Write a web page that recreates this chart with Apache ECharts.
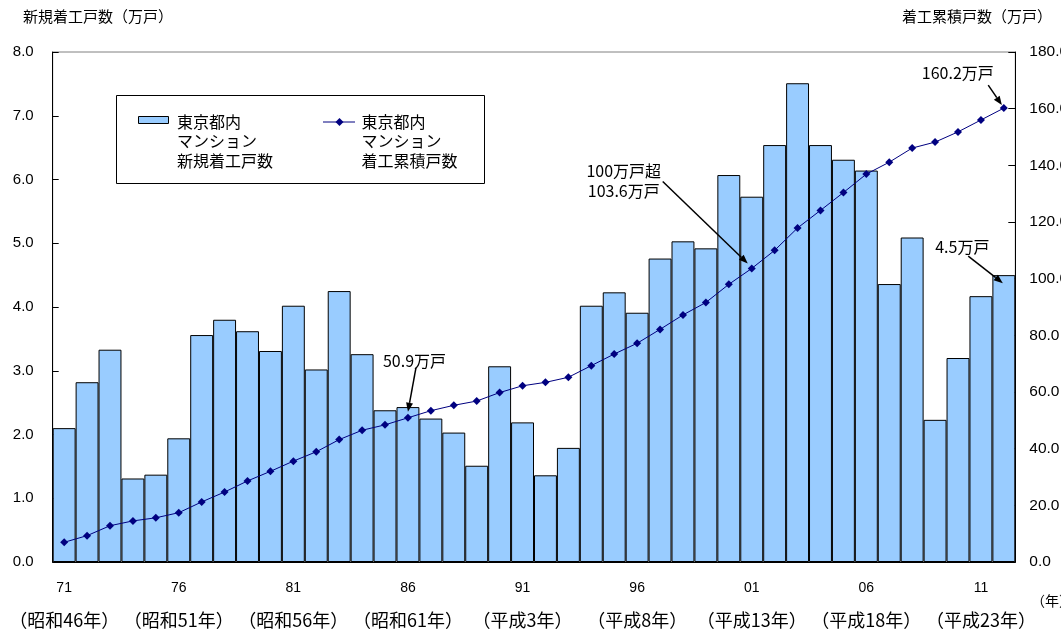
<!DOCTYPE html>
<html>
<head>
<meta charset="utf-8">
<script src="https://cdn.jsdelivr.net/npm/echarts@6/dist/echarts.min.js"></script>
<style>
  html, body { margin: 0; padding: 0; background: #fff; }
  #chart { width: 1061px; height: 634px; }
</style>
</head>
<body>
<div id="chart"></div>
<script>
// Calendar years (last two digits), 1971–2012
const years = ['71','72','73','74','75','76','77','78','79','80',
               '81','82','83','84','85','86','87','88','89','90',
               '91','92','93','94','95','96','97','98','99','00',
               '01','02','03','04','05','06','07','08','09','10',
               '11','12'];

// Japanese era names shown under every fifth year
const eraLabels = ['（昭和46年）','（昭和51年）','（昭和56年）','（昭和61年）','（平成3年）',
                   '（平成8年）','（平成13年）','（平成18年）','（平成23年）'];

// New condominium starts in Tokyo (10,000 units)
const newStarts = [2.10, 2.82, 3.33, 1.31, 1.37, 1.94, 3.56, 3.80, 3.62, 3.31,
                   4.02, 3.02, 4.25, 3.26, 2.38, 2.43, 2.25, 2.03, 1.51, 3.07,
                   2.19, 1.36, 1.79, 4.02, 4.23, 3.91, 4.76, 5.03, 4.92, 6.07,
                   5.73, 6.54, 7.51, 6.54, 6.31, 6.14, 4.36, 5.09, 2.23, 3.20,
                   4.17, 4.5];

// Cumulative condominium starts (10,000 units)
const cumulative = [6.95, 9.3, 12.8, 14.5, 15.6, 17.4, 21.2, 24.7, 28.6, 32.0,
                    35.6, 38.9, 43.2, 46.5, 48.4, 50.9, 53.4, 55.3, 56.8, 59.8,
                    62.2, 63.4, 65.2, 69.3, 73.4, 77.2, 82.1, 87.2, 91.6, 98.0,
                    103.6, 110.0, 117.9, 124.1, 130.4, 136.9, 141.1, 146.1, 148.2, 151.8,
                    156.0, 160.2];

const leftAxisTitle = '新規着工戸数（万戸）';
const rightAxisTitle = '着工累積戸数（万戸）';
const yearUnit = '（年）';
const barLegend = '東京都内\nマンション\n新規着工戸数';
const lineLegend = '東京都内\nマンション\n着工累積戸数';

const NUM_FONT = '"Liberation Sans", Arial, sans-serif';
const JP_FONT = '"Noto Sans CJK JP", sans-serif';

const chart = echarts.init(document.getElementById('chart'), null, { renderer: 'canvas' });

chart.setOption({
  animation: false,
  backgroundColor: '#fff',
  grid: {
    left: 52.7, right: 45.7, top: 52, bottom: 72,
    containLabel: false,
    outerBoundsMode: 'none',
    show: true, borderColor: '#808080', borderWidth: 1, backgroundColor: 'transparent'
  },
  xAxis: {
    type: 'category',
    data: years,
    boundaryGap: true,
    axisLine: { lineStyle: { color: '#000', width: 1 } },
    axisTick: { show: false },
    axisLabel: {
      interval: 4,
      margin: 10,
      formatter: (v, i) => '{y|' + v + '}\n{e|' + eraLabels[Math.round(i / 5)] + '}',
      rich: {
        y: { fontFamily: NUM_FONT, fontSize: 14, color: '#000', lineHeight: 32 },
        e: { fontFamily: JP_FONT, fontSize: 18, color: '#000', lineHeight: 32 }
      }
    }
  },
  yAxis: [
    {
      type: 'value', min: 0, max: 8, interval: 1, position: 'left',
      axisLine: { show: true, lineStyle: { color: '#000', width: 1 } },
      axisTick: { show: true, inside: true, length: 6, lineStyle: { color: '#000' } },
      splitLine: { show: false },
      axisLabel: { margin: 19, color: '#000', fontFamily: NUM_FONT, fontSize: 15,
                   formatter: v => v.toFixed(1) }
    },
    {
      type: 'value', min: 0, max: 180, interval: 20, position: 'right',
      axisLine: { show: true, lineStyle: { color: '#000', width: 1 } },
      axisTick: { show: true, inside: true, length: 7, lineStyle: { color: '#000' } },
      splitLine: { show: false },
      axisLabel: { margin: 14, color: '#000', fontFamily: NUM_FONT, fontSize: 15.5,
                   formatter: v => v.toFixed(1) }
    }
  ],
  series: [
    {
      name: '新規着工戸数',
      type: 'bar',
      data: newStarts,
      barCategoryGap: '0%',
      itemStyle: { color: '#99CCFF', borderColor: '#000', borderWidth: 1 },
      z: 2
    },
    {
      name: '着工累積戸数',
      type: 'line',
      yAxisIndex: 1,
      data: cumulative,
      symbol: 'diamond',
      symbolSize: 8,
      lineStyle: { color: '#000080', width: 1 },
      itemStyle: { color: '#000080' },
      z: 3
    }
  ]
});

// Arrow from (x1,y1) to tip (x2,y2)
function arrow(x1, y1, x2, y2) {
  const a = Math.atan2(y2 - y1, x2 - x1);
  const L = 9, W = 3.5;
  const c = Math.cos(a), s = Math.sin(a);
  const bx = x2 - L * c, by = y2 - L * s;
  return [
    { type: 'line', shape: { x1, y1, x2: bx, y2: by }, style: { stroke: '#000', lineWidth: 1.5 }, z: 20 },
    { type: 'polygon', shape: { points: [[x2, y2], [bx - W * s, by + W * c], [bx + W * s, by - W * c]] },
      style: { fill: '#000' }, z: 20 }
  ];
}

function label(x, y, text, align) {
  return { type: 'text', x, y, z: 20,
    style: { text, fill: '#000', font: '16px ' + JP_FONT, textAlign: align || 'left',
             textVerticalAlign: 'middle', lineHeight: 20 } };
}

const pLine = (i) => chart.convertToPixel({ seriesIndex: 1 }, [i, cumulative[i]]);
const pBar = (i) => chart.convertToPixel({ seriesIndex: 0 }, [i, newStarts[i]]);

const g = [];
// 1986 cumulative
const p86 = pLine(15);
g.push(label(p86[0] - 25, p86[1] - 57, cumulative[15].toFixed(1) + '万戸'));
g.push(...arrow(p86[0] + 8, p86[1] - 50, p86[0], p86[1] - 6));
// 2001 cumulative (passes one million)
const p01 = pLine(30);
g.push(label(p01[0] - 128, p01[1] - 88, '100万戸超\n' + cumulative[30].toFixed(1) + '万戸', 'center'));
g.push(...arrow(p01[0] - 89, p01[1] - 87, p01[0] - 4, p01[1] - 5));
// 2012 cumulative
const p12 = pLine(41);
g.push(label(p12[0] - 46, p12[1] - 35.5, cumulative[41].toFixed(1) + '万戸', 'center'));
g.push(...arrow(p12[0] - 15.6, p12[1] - 23, p12[0] - 2, p12[1] - 3));
// 2012 starts
const b12 = pBar(41);
g.push(label(b12[0] - 41.5, b12[1] - 28.4, newStarts[41].toFixed(1) + '万戸', 'center'));
g.push(...arrow(b12[0] - 35.6, b12[1] - 19, b12[0] - 1, b12[1] + 8));

// Axis titles and unit
g.push({ type: 'text', x: 23, y: 16, style: { text: leftAxisTitle, fill: '#000', font: '15px ' + JP_FONT, textVerticalAlign: 'middle' } });
g.push({ type: 'text', x: 902, y: 16, style: { text: rightAxisTitle, fill: '#000', font: '15px ' + JP_FONT, textVerticalAlign: 'middle' } });
g.push({ type: 'text', x: 1031, y: 601, style: { text: yearUnit, fill: '#000', font: '14px ' + JP_FONT, textVerticalAlign: 'middle' } });

// Legend box
g.push({ type: 'rect', shape: { x: 116.5, y: 95.5, width: 368, height: 88 },
         style: { fill: '#fff', stroke: '#000', lineWidth: 1 }, z: 10 });
g.push({ type: 'rect', shape: { x: 138.5, y: 116.5, width: 30, height: 7 },
         style: { fill: '#99CCFF', stroke: '#000', lineWidth: 1 }, z: 11 });
g.push({ type: 'text', x: 177, y: 112, z: 11,
         style: { text: barLegend, fill: '#000', font: '16px ' + JP_FONT, lineHeight: 19.5, textVerticalAlign: 'top' } });
g.push({ type: 'line', shape: { x1: 323, y1: 122, x2: 355, y2: 122 },
         style: { stroke: '#000080', lineWidth: 1 }, z: 11 });
g.push({ type: 'polygon', shape: { points: [[339.5, 118], [343.5, 122], [339.5, 126], [335.5, 122]] },
         style: { fill: '#000080' }, z: 11 });
g.push({ type: 'text', x: 361.5, y: 112, z: 11,
         style: { text: lineLegend, fill: '#000', font: '16px ' + JP_FONT, lineHeight: 19.5, textVerticalAlign: 'top' } });

chart.setOption({ graphic: g });
</script>
</body>
</html>
